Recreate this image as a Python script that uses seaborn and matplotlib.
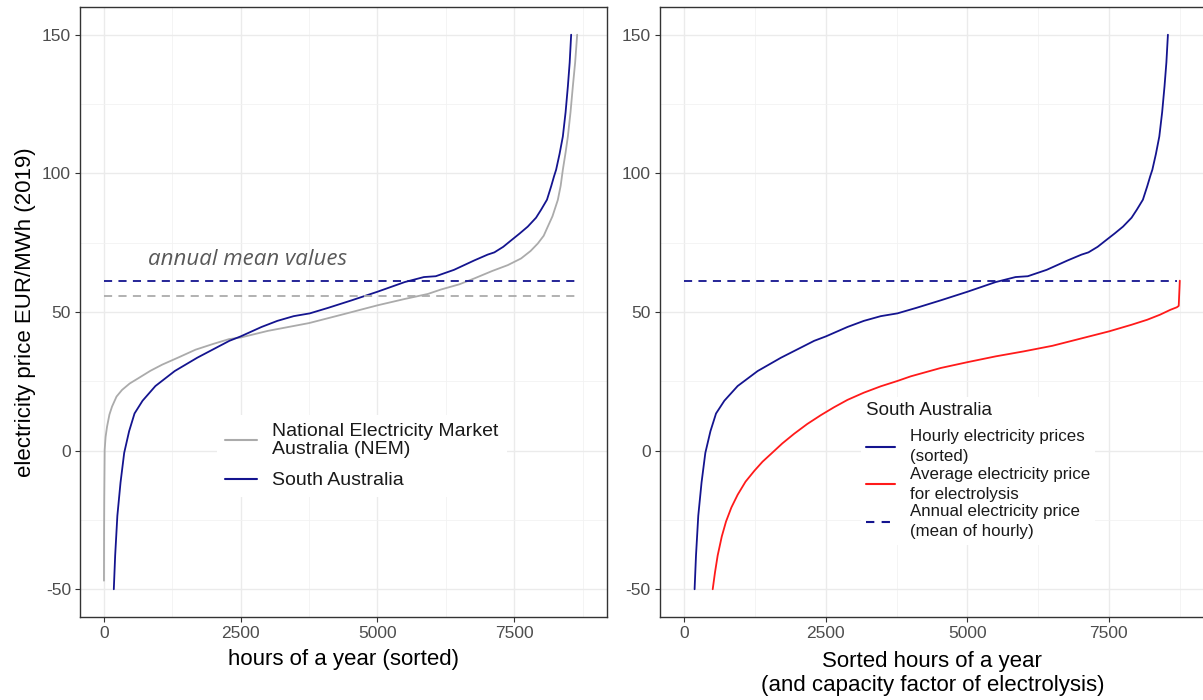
import numpy as np
import pandas as pd
import matplotlib
matplotlib.use("Agg")
import matplotlib.pyplot as plt
import seaborn as sns
from matplotlib.lines import Line2D

# ==========================
# Data
# ==========================

# National Electricity Market (NEM), sorted hourly prices
nem_hours = [0, 2, 5, 13, 30, 57, 100, 148, 230, 331, 470, 636, 850, 1064, 1350,
             1674, 2000, 2284, 2500, 3000, 3750, 4400, 5000, 5500, 5922, 6161, 6500,
             6771, 7100, 7383, 7626, 7800, 7932, 8040, 8115, 8200, 8298, 8350, 8390,
             8440, 8482, 8530, 8573, 8615, 8652]
nem_price = [-46.9, -30.0, -17.8, 0.3, 5.0, 8.7, 13.0, 15.9, 19.5, 21.9, 24.2, 26.2,
             28.8, 31.0, 33.5, 36.4, 38.5, 40.2, 40.8, 43.2, 46.0, 49.3, 52.4, 54.7,
             56.5, 58.1, 60.0, 62.1, 64.8, 66.9, 69.3, 72.0, 74.7, 77.5, 80.8, 84.5,
             90.4, 95.5, 101.3, 107.5, 113.3, 122.0, 131.4, 140.0, 150.0]

# South Australia, sorted hourly prices
sa_hours = [180, 205, 245, 303, 370, 460, 559, 706, 941, 1294, 1705, 2293, 2500,
            2881, 3171, 3469, 3763, 4100, 4528, 5000, 5500, 5850, 6067, 6400, 6771,
            7016, 7138, 7300, 7443, 7600, 7749, 7900, 7993, 8100, 8176, 8230, 8267,
            8330, 8390, 8440, 8482, 8515, 8542]
sa_price = [-50.0, -37.8, -23.5, -11.5, -0.8, 7.0, 13.4, 18.0, 23.3, 28.7, 33.5, 39.6,
            41.2, 44.6, 46.8, 48.5, 49.5, 51.5, 54.2, 57.3, 60.8, 62.6, 62.9, 65.2,
            68.6, 70.7, 71.5, 73.5, 75.8, 78.3, 80.8, 84.0, 86.9, 90.5, 95.3, 99.0,
            101.3, 107.0, 113.3, 122.0, 131.4, 140.0, 150.0]

# South Australia, average price paid by electrolysis vs. operating hours
elec_hours = [500, 540, 588, 660, 735, 830, 941, 1080, 1235, 1380, 1529, 1730, 1940,
              2170, 2411, 2640, 2881, 3170, 3469, 3760, 4000, 4528, 5000, 5500, 5996,
              6500, 7000, 7500, 7900, 8176, 8400, 8587, 8700, 8733, 8752]
elec_price = [-50.0, -44.0, -37.8, -31.0, -25.6, -20.5, -15.9, -11.2, -7.3, -4.0,
              -1.2, 2.6, 6.1, 9.6, 12.8, 15.6, 18.3, 20.9, 23.2, 25.1, 26.8, 29.8,
              31.9, 34.0, 35.8, 37.8, 40.4, 43.0, 45.4, 47.2, 49.0, 50.8, 51.7, 52.2,
              61.3]

# annual mean values
nem_mean = 55.7
sa_mean = 61.2
mean_end_left = 8640
mean_end_right = 8700

nem_df = pd.DataFrame({"hours": nem_hours, "price": nem_price})
sa_df = pd.DataFrame({"hours": sa_hours, "price": sa_price})
elec_df = pd.DataFrame({"hours": elec_hours, "price": elec_price})

# ==========================
# Style (ggplot theme_bw look)
# ==========================

sns.set_style("whitegrid")
plt.rcParams["font.family"] = ["Liberation Sans", "DejaVu Sans"]
plt.rcParams["axes.unicode_minus"] = False

NAVY = "#14148F"
GREY = "#ABABAB"
RED = "#FF1A1A"
TICK_COL = "#4D4D4D"
FRAME_COL = "#333333"

fig = plt.figure(figsize=(12.03, 7.0), dpi=100)
ax1 = fig.add_axes([0.0665, 0.1186, 0.4381, 0.8714])
ax2 = fig.add_axes([0.5483, 0.1186, 0.4534, 0.8714])


def style_axis(ax):
    ax.set_xlim(-438, 9198)
    ax.set_ylim(-60, 160)
    ax.set_xticks([0, 2500, 5000, 7500])
    ax.set_xticks([1250, 3750, 6250, 8750], minor=True)
    ax.set_yticks([-50, 0, 50, 100, 150])
    ax.set_yticks([-25, 25, 75, 125], minor=True)
    ax.grid(which="major", color="#EBEBEB", lw=1.0)
    ax.grid(which="minor", color="#F2F2F2", lw=0.6)
    ax.set_axisbelow(True)
    for sp in ax.spines.values():
        sp.set_color(FRAME_COL)
        sp.set_linewidth(1.0)
    ax.tick_params(which="major", length=3.5, width=0.8, color=FRAME_COL,
                   labelsize=12.5, labelcolor=TICK_COL, pad=3,
                   bottom=True, left=True)
    ax.tick_params(which="minor", length=0)


# ==========================
# Left panel: NEM vs South Australia
# ==========================

sns.lineplot(data=nem_df, x="hours", y="price", ax=ax1, color=GREY, lw=1.3,
             sort=False, estimator=None)
sns.lineplot(data=sa_df, x="hours", y="price", ax=ax1, color=NAVY, lw=1.3,
             sort=False, estimator=None)
ax1.hlines(sa_mean, 0, mean_end_left, color=NAVY, lw=1.3, linestyles=(0, (4.5, 3.5)))
ax1.hlines(nem_mean, 0, mean_end_left, color=GREY, lw=1.3, linestyles=(0, (4.5, 3.5)))
ax1.text(813, 69.0, "annual mean values", fontsize=16, style="italic",
         family=["Open Sans", "DejaVu Sans"], color="#595959", va="center", ha="left")

style_axis(ax1)
ax1.set_xlabel("hours of a year (sorted)", fontsize=16, color="black", labelpad=6)
ax1.set_ylabel("electricity price EUR/MWh (2019)", fontsize=16, color="black", labelpad=4)

h_left = [Line2D([], [], color=GREY, lw=1.5), Line2D([], [], color=NAVY, lw=1.5)]
leg1 = ax1.legend(h_left, ["National Electricity Market\nAustralia (NEM)", "South Australia"],
                  loc="upper left", bbox_to_anchor=(0.26, 0.331), borderaxespad=0,
                  fontsize=14, frameon=True, facecolor="white", edgecolor="none",
                  framealpha=1, fancybox=False, handlelength=1.65, handletextpad=0.8,
                  borderpad=0.4, labelspacing=0.7)
for t in leg1.get_texts():
    t.set_linespacing(1.1)
    t.set_color("#1A1A1A")

# ==========================
# Right panel: electrolysis price curve
# ==========================

sns.lineplot(data=sa_df, x="hours", y="price", ax=ax2, color=NAVY, lw=1.3,
             sort=False, estimator=None)
sns.lineplot(data=elec_df, x="hours", y="price", ax=ax2, color=RED, lw=1.3,
             sort=False, estimator=None)
ax2.hlines(sa_mean, 0, mean_end_right, color=NAVY, lw=1.3, linestyles=(0, (4.5, 3.5)))

style_axis(ax2)
ax2.set_xlabel("Sorted hours of a year\n(and capacity factor of electrolysis)",
               fontsize=16, color="black", labelpad=7, linespacing=1.2)
ax2.set_ylabel("")

h_right = [Line2D([], [], color=NAVY, lw=1.5), Line2D([], [], color=RED, lw=1.5),
           Line2D([], [], color=NAVY, lw=1.5, ls=(0, (4, 3.5)))]
leg2 = ax2.legend(h_right, ["Hourly electricity prices\n(sorted)",
                            "Average electricity price\nfor electrolysis",
                            "Annual electricity price\n(mean of hourly)"],
                  title="South Australia", title_fontsize=13.5, alignment="left",
                  loc="upper left", bbox_to_anchor=(0.369, 0.36), borderaxespad=0,
                  fontsize=12.2, frameon=True, facecolor="white", edgecolor="none",
                  framealpha=1, fancybox=False, handlelength=1.7, handletextpad=0.9,
                  borderpad=0.3, labelspacing=0.14)
for t in leg2.get_texts():
    t.set_linespacing(1.43)
    t.set_color("#1A1A1A")
leg2.get_title().set_color("#1A1A1A")
leg2._legend_box.sep = 7

fig.savefig("out.png", dpi=100)
